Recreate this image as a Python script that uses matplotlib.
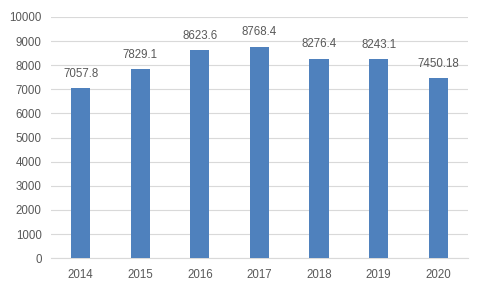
import matplotlib.pyplot as plt

years = ['2014', '2015', '2016', '2017', '2018', '2019', '2020']
values = [7057.8, 7829.1, 8623.6, 8768.4, 8276.4, 8243.1, 7450.18]
value_labels = ['7057.8', '7829.1', '8623.6', '8768.4', '8276.4', '8243.1', '7450.18']

plt.rcParams['font.family'] = ['Liberation Sans', 'DejaVu Sans']
text_color = '#595959'

fig = plt.figure(figsize=(4.84, 2.92), dpi=100)
ax = fig.add_axes([0.105, 0.116, 0.862, 0.826])

x = range(len(years))
bars = ax.bar(x, values, width=0.32, color='#4F81BD', zorder=3)

for xi, v, lab in zip(x, values, value_labels):
    ax.annotate(lab, (xi, v), xytext=(0, 6), textcoords='offset points',
                ha='center', va='bottom', fontsize=8.3, color=text_color)

ax.set_xlim(-0.5, len(years) - 0.5)
ax.set_ylim(0, 10000)
ax.set_yticks(range(0, 10001, 1000))
ax.set_xticks(list(x))
ax.set_xticklabels(years)
ax.grid(axis='y', color='#D9D9D9', linewidth=0.8, zorder=0)
ax.tick_params(axis='both', length=0, labelsize=8.3, labelcolor=text_color)
ax.tick_params(axis='x', pad=7.5)
ax.tick_params(axis='y', pad=6.5)
for side in ['top', 'right', 'left']:
    ax.spines[side].set_visible(False)
ax.spines['bottom'].set_color('#D9D9D9')

fig.savefig('out.png', dpi=100)
